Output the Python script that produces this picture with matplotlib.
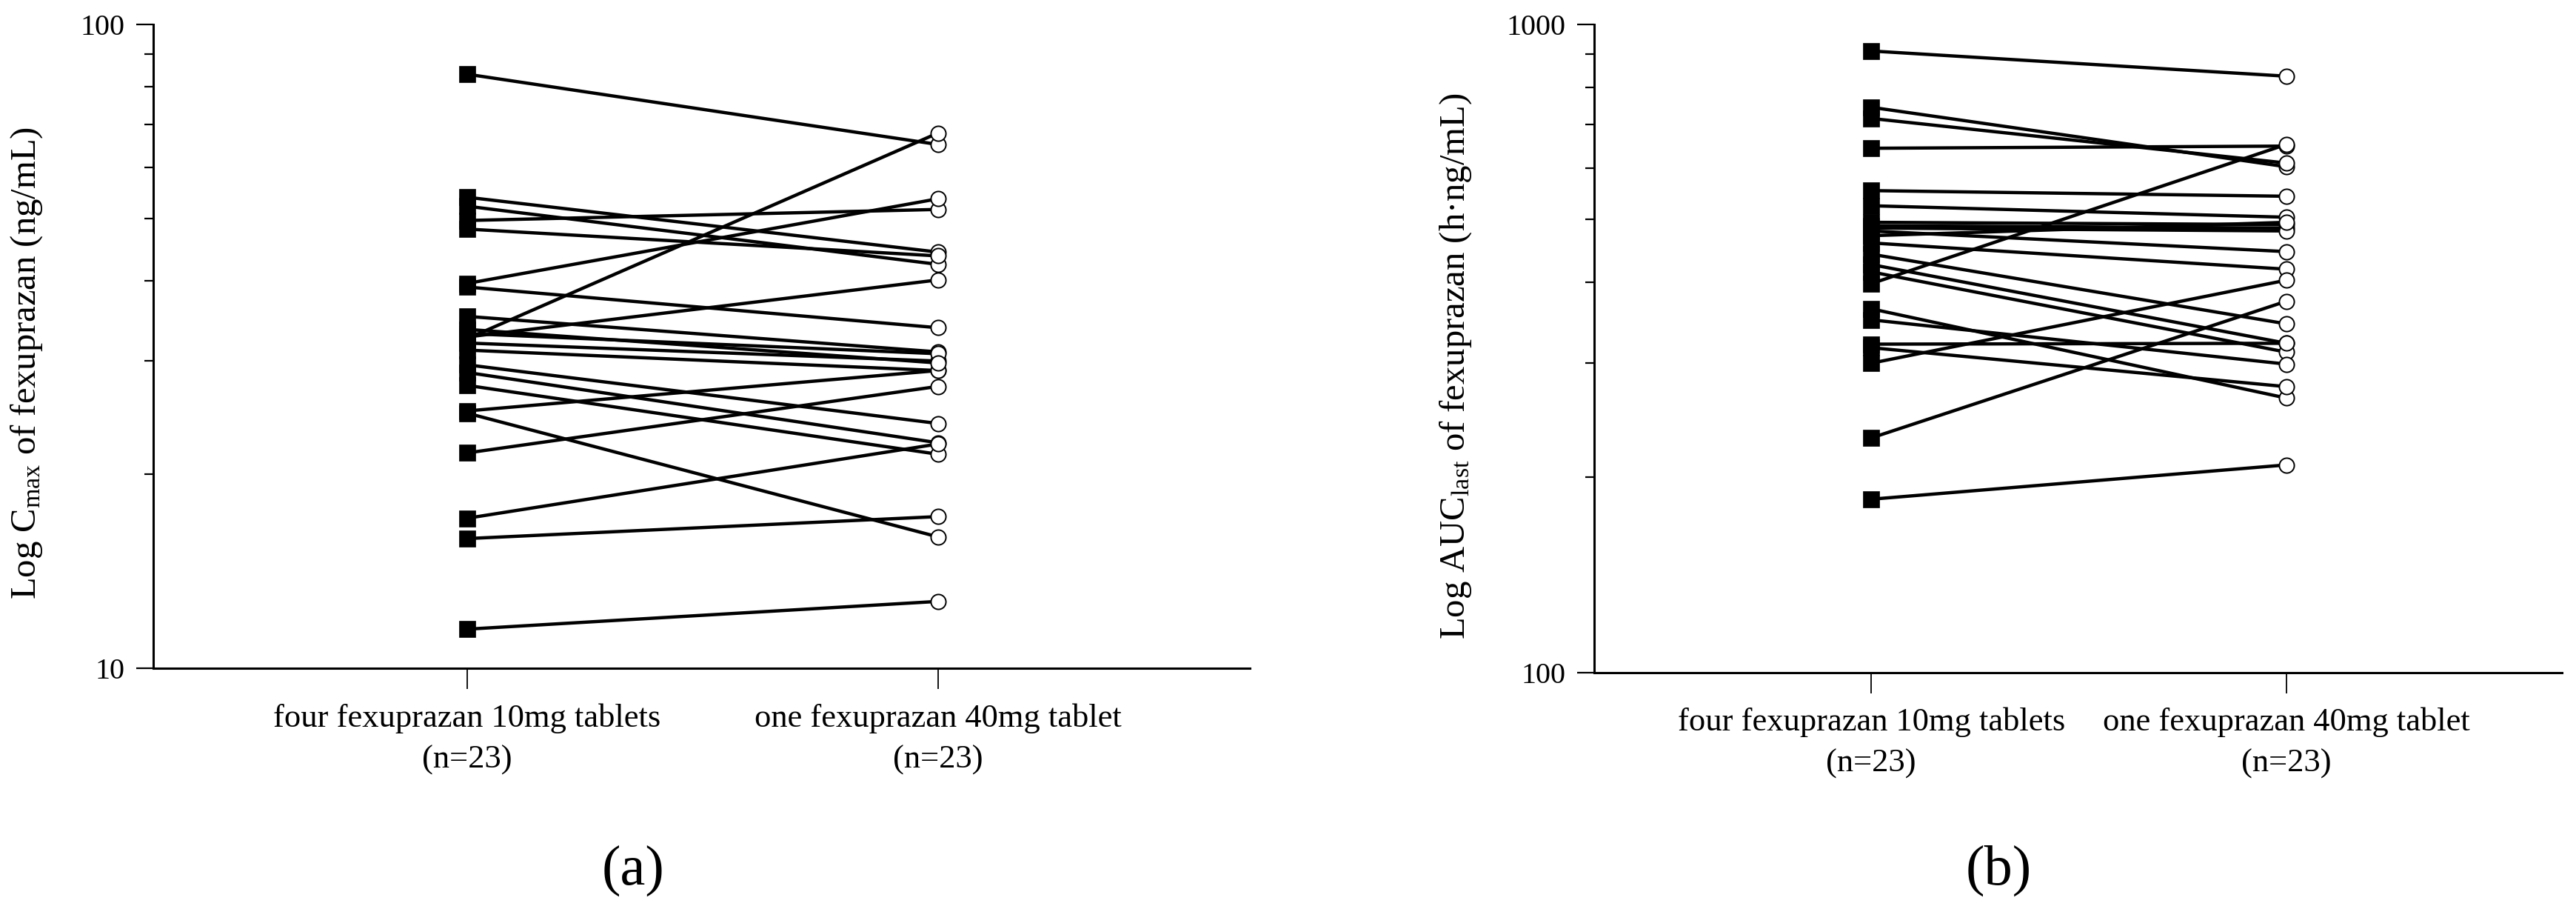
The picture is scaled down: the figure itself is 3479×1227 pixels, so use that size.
import matplotlib
matplotlib.use("Agg")
import matplotlib.pyplot as plt
from matplotlib.ticker import FixedLocator, NullFormatter

plt.rcParams['font.family'] = ['Liberation Serif', 'DejaVu Serif']
plt.rcParams['mathtext.fontset'] = 'custom'
plt.rcParams['mathtext.rm'] = 'Liberation Serif'
plt.rcParams['mathtext.it'] = 'Liberation Serif:italic'

# ---------------- data ----------------
categories = ["four fexuprazan 10mg tablets\n(n=23)", "one fexuprazan 40mg tablet\n(n=23)"]

# Panel (a): Cmax (ng/mL), paired per subject
cmax_four10 = [83.7, 32.5, 53.9, 52.2, 49.6, 48.1, 39.6, 39.1, 32.7, 35.2, 32.0, 31.2,
               33.1, 29.6, 28.8, 27.5, 24.9, 25.1, 21.6, 17.1, 15.9, 11.5, 33.6]
cmax_one40 = [65.1, 67.8, 44.3, 42.4, 51.6, 43.7, 53.6, 33.8, 40.1, 31.0, 30.0, 29.0,
              30.8, 24.0, 22.4, 21.5, 16.0, 29.0, 27.4, 22.3, 17.2, 12.7, 29.8]

# Panel (b): AUClast (h·ng/mL), paired per subject
auc_four10 = [910, 745, 716, 644, 554, 525, 495, 489, 485, 480, 472, 460,
              442, 426, 415, 398, 364, 350, 321, 317, 300, 230, 185]
auc_one40 = [832, 603, 611, 649, 543, 504, 491, 485, 480, 446, 495, 419,
             345, 322, 312, 653, 265, 299, 322, 276, 403, 374, 209]

ylabel_a = r"Log C$_{\mathrm{max}}$ of fexuprazan (ng/mL)"
ylabel_b = r"Log AUC$_{\mathrm{last}}$ of fexuprazan (h·ng/mL)"

W, H = 3480, 1227
fig = plt.figure(figsize=(W / 100, H / 100), dpi=100)


def px_axes(left, right, top, bottom):
    return fig.add_axes([left / W, 1 - bottom / H, (right - left) / W, (bottom - top) / H])


def draw_panel(ax, left_vals, right_vals, ylim, minor):
    for a, b in zip(left_vals, right_vals):
        ax.plot([0, 1], [a, b], color='black', lw=3.2, zorder=2, solid_capstyle='butt')
    ax.plot([0] * len(left_vals), left_vals, linestyle='none', marker='s', ms=15.5,
            mfc='black', mec='black', mew=0.5, zorder=3)
    ax.plot([1] * len(right_vals), right_vals, linestyle='none', marker='o', ms=14.5,
            mfc='white', mec='black', mew=1.4, zorder=4)
    ax.set_yscale('log')
    ax.set_ylim(*ylim)
    ax.set_xlim(-0.667, 1.663)
    ax.yaxis.set_major_locator(FixedLocator(list(ylim)))
    ax.set_yticklabels([str(v) for v in ylim])
    ax.yaxis.set_minor_locator(FixedLocator(minor))
    ax.yaxis.set_minor_formatter(NullFormatter())
    ax.set_xticks([0, 1])
    ax.set_xticklabels(categories, fontsize=32, linespacing=1.5)
    for s in ['top', 'right']:
        ax.spines[s].set_visible(False)
    for s in ['left', 'bottom']:
        ax.spines[s].set_linewidth(2.2)
    ax.tick_params(axis='x', direction='out', length=20, width=1.3, pad=14)
    ax.tick_params(axis='y', which='major', direction='out', length=16.5, width=1.6,
                   pad=11, labelsize=29)
    ax.tick_params(axis='y', which='minor', direction='out', length=8.3, width=1.6)


ax_a = px_axes(207, 1688, 33, 902)
draw_panel(ax_a, cmax_four10, cmax_one40, (10, 100), [20, 30, 40, 50, 60, 70, 80, 90])

ax_b = px_axes(2153, 3460, 33, 907.5)
draw_panel(ax_b, auc_four10, auc_one40, (100, 1000), [200, 300, 400, 500, 600, 700, 800, 900])

fig.text(36 / W, 1 - 490 / H, ylabel_a, rotation=90, ha='center', va='center', fontsize=35)
fig.text(1966 / W, 1 - 494 / H, ylabel_b, rotation=90, ha='center', va='center', fontsize=35)

fig.text(855 / W, 1 - 1175 / H, "(a)", ha='center', va='center', fontsize=55)
fig.text(2699 / W, 1 - 1175 / H, "(b)", ha='center', va='center', fontsize=55)

fig.savefig("out.png", dpi=100, facecolor='white')
